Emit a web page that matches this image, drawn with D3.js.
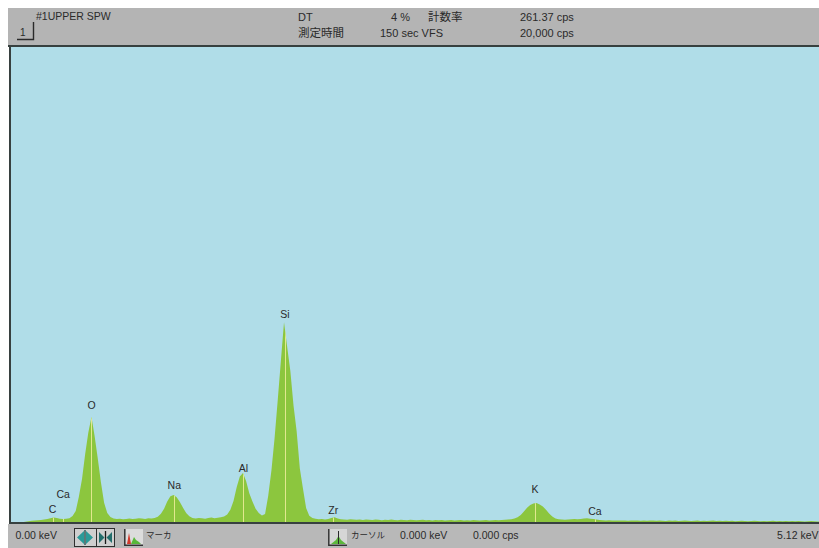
<!DOCTYPE html>
<html>
<head>
<meta charset="utf-8">
<script src="https://cdn.jsdelivr.net/npm/d3@7"></script>
<style>
  body { margin: 0; background: #ffffff; }
  svg { display: block; }
  text { font-family: "Liberation Sans", Arial, sans-serif; fill: #2a2a2a; }
  .jp { font-family: "Noto Sans CJK JP", sans-serif; }
</style>
</head>
<body>
<svg id="chart" width="819" height="548"></svg>
<script>
// ---- EDS spectrum data ----------------------------------------------------
const channelWidth = 0.02;          // keV per channel
const energyRange = [0, 5.12];      // keV shown on the horizontal axis
const fullScale = 20000;            // vertical full scale (cps)

// counts per channel, channel i is centred on (i + 0.5) * channelWidth keV
const counts = [
  0, 0, 10, 30, 50, 70, 90, 100, 120, 130,
  150, 170, 200, 230, 210, 180, 170, 180, 200, 290,
  500, 1100, 1850, 2900, 3800, 4450, 3650, 2700, 1700, 850,
  420, 250, 190, 170, 180, 160, 170, 190, 170, 180,
  200, 190, 170, 200, 190, 210, 260, 390, 600, 900,
  1120, 1180, 1080, 880, 640, 420, 280, 210, 190, 210,
  200, 180, 210, 230, 200, 220, 240, 270, 360, 560,
  920, 1500, 1950, 2100, 1750, 1250, 900, 600, 420, 320,
  380, 1150, 2200, 3550, 5150, 6800, 8440, 7400, 6400, 4950,
  3850, 2300, 1450, 630, 300, 210, 180, 160, 170, 150,
  170, 210, 240, 190, 160, 150, 140, 160, 150, 140,
  150, 130, 150, 140, 130, 150, 140, 120, 140, 130,
  150, 130, 120, 140, 130, 120, 140, 130, 120, 130,
  140, 120, 130, 110, 130, 120, 130, 110, 120, 130,
  110, 120, 130, 110, 120, 110, 130, 120, 110, 120,
  130, 110, 120, 130, 120, 130, 140, 150, 160, 190,
  240, 340, 480, 640, 760, 820, 840, 780, 690, 560,
  400, 270, 190, 160, 150, 140, 150, 160, 170, 160,
  170, 190, 200, 180, 170, 150, 130, 120, 110, 120,
  110, 100, 110, 100, 110, 90, 100, 110, 100, 90,
  100, 90, 100, 110, 90, 100, 90, 80, 100, 90,
  100, 80, 90, 100, 90, 80, 90, 100, 80, 90,
  80, 90, 100, 80, 90, 80, 90, 80, 90, 70,
  80, 90, 80, 70, 80, 90, 80, 70, 80, 70,
  80, 90, 70, 80, 70, 80, 70, 80, 70, 80,
  70, 60, 70, 80, 70, 60
];

// identified peaks: element symbol, line energy (keV), label height (cps)
const peakLabels   = ["C", "Ca", "O", "Na", "Al", "Si", "Zr", "K", "Ca"];
const peakEnergies = [0.264, 0.331, 0.51, 1.035, 1.472, 1.736, 2.042, 3.32, 3.70];
const labelLevels  = [420, 1050, 4790, 1430, 2140, 8610, 380, 1260, 340];

// measurement header
const sampleName = "#1UPPER SPW";
const deadTime = 4;          // %
const countRate = 261.37;    // cps
const liveTime = 150;        // sec
const cursorEnergy = 0;      // keV
const cursorCounts = 0;      // cps

// ---- layout -----------------------------------------------------------------
const W = 819, H = 548;
const plot = { left: 11, right: 819, top: 47, bottom: 523 };

const svg = d3.select("#chart");

// header panel
svg.append("rect").attr("x", 8).attr("y", 8).attr("width", W - 8).attr("height", 38)
  .attr("fill", "#b4b4b4");
// footer panel
svg.append("rect").attr("x", 8).attr("y", 524).attr("width", W - 8).attr("height", H - 524)
  .attr("fill", "#b8b8b8");
// plot background
svg.append("rect").attr("x", plot.left).attr("y", plot.top)
  .attr("width", plot.right - plot.left).attr("height", plot.bottom - plot.top)
  .attr("fill", "#b0dde8");

// ---- scales -------------------------------------------------------------------
const x = d3.scaleLinear().domain(energyRange).range([plot.left, plot.right]);
const y = d3.scaleLinear().domain([0, fullScale]).range([plot.bottom, plot.top]);

const spectrum = counts.map((c, i) => ({ e: (i + 0.5) * channelWidth, c }));
spectrum.unshift({ e: energyRange[0], c: 0 });
spectrum.push({ e: energyRange[1], c: counts[counts.length - 1] });

const area = d3.area()
  .curve(d3.curveLinear)
  .x(d => x(d.e))
  .y0(y(0))
  .y1(d => y(d.c));

// spectrum fill
svg.append("path").datum(spectrum)
  .attr("d", area)
  .attr("fill", "#8cc63e");

// element marker lines, visible only inside the spectrum
svg.append("clipPath").attr("id", "specClip")
  .append("path").datum(spectrum).attr("d", area);

svg.append("g").attr("clip-path", "url(#specClip)")
  .selectAll("line").data(peakEnergies).join("line")
  .attr("x1", d => Math.round(x(d)) + 0.5).attr("x2", d => Math.round(x(d)) + 0.5)
  .attr("y1", y(0)).attr("y2", y(fullScale))
  .attr("stroke", "#e2e88e").attr("stroke-width", 1);

// element labels
svg.append("g").selectAll("text").data(peakLabels).join("text")
  .attr("x", (d, i) => x(peakEnergies[i]))
  .attr("y", (d, i) => y(labelLevels[i]))
  .attr("text-anchor", "middle")
  .attr("font-size", 10.5)
  .attr("fill", "#333")
  .text(d => d);

// frame lines
svg.append("rect").attr("x", 8).attr("y", 45).attr("width", W - 8).attr("height", 2).attr("fill", "#37403f");
svg.append("rect").attr("x", 9).attr("y", 45).attr("width", 2).attr("height", 479).attr("fill", "#37403f");
svg.append("rect").attr("x", 9).attr("y", 522).attr("width", W - 9).attr("height", 2).attr("fill", "#37403f");

// energy axis end labels in the footer
const axis = d3.axisBottom(x)
  .tickValues(energyRange)
  .tickSize(0)
  .tickFormat(d => d3.format(".2f")(d) + " keV");
const axisG = svg.append("g").attr("transform", `translate(0,${plot.bottom})`).call(axis);
axisG.select(".domain").remove();
axisG.selectAll("text")
  .attr("font-family", "Liberation Sans, Arial, sans-serif")
  .attr("font-size", 10.5).attr("fill", "#2a2a2a")
  .attr("dy", null).attr("y", 15.5)
  .attr("text-anchor", (d, i) => i === 0 ? "start" : "end")
  .attr("dx", (d, i) => i === 0 ? 4 : -1);

// ---- header text ----------------------------------------------------------------
const hdr = svg.append("g");
hdr.append("text").attr("x", 36).attr("y", 20).attr("font-size", 10.5).text(sampleName);
// page button "1"
hdr.append("text").attr("x", 20).attr("y", 36).attr("font-size", 10).text("1");
hdr.append("path").attr("d", "M17,39.5H33.5V22").attr("fill", "none")
  .attr("stroke", "#2a2a2a").attr("stroke-width", 1.4);

hdr.append("text").attr("x", 298).attr("y", 21).attr("font-size", 11).text("DT");
hdr.append("text").attr("x", 410).attr("y", 21).attr("font-size", 11).attr("text-anchor", "end")
  .text(deadTime + " %");
hdr.append("text").attr("class", "jp").attr("x", 428).attr("y", 21).attr("font-size", 11.5).text("計数率");
hdr.append("text").attr("x", 520).attr("y", 21).attr("font-size", 11).text(d3.format(".2f")(countRate) + " cps");

hdr.append("text").attr("class", "jp").attr("x", 298).attr("y", 37).attr("font-size", 11.5).text("測定時間");
hdr.append("text").attr("x", 380).attr("y", 37).attr("font-size", 11).text(liveTime + " sec VFS");
hdr.append("text").attr("x", 520).attr("y", 37).attr("font-size", 11).text(d3.format(",")(fullScale) + " cps");

// ---- footer controls ---------------------------------------------------------
const ftr = svg.append("g");
// zoom buttons
ftr.append("rect").attr("x", 74.5).attr("y", 528.5).attr("width", 22).attr("height", 18)
  .attr("fill", "#cfcfcf").attr("stroke", "#2f2f2f");
ftr.append("rect").attr("x", 96.5).attr("y", 528.5).attr("width", 18).attr("height", 18)
  .attr("fill", "#cfcfcf").attr("stroke", "#2f2f2f");
ftr.append("path").attr("d", "M77,537.5L84,531V544Z M93,537.5L86,531V544Z").attr("fill", "#2a9a98");
ftr.append("line").attr("x1", 85).attr("x2", 85).attr("y1", 530).attr("y2", 545).attr("stroke", "#1d4b4a").attr("stroke-width", 1.3);
ftr.append("path").attr("d", "M99,532L104.5,537.5L99,543Z M112,532L106.5,537.5L112,543Z").attr("fill", "#236e6c");
ftr.append("line").attr("x1", 105.5).attr("x2", 105.5).attr("y1", 531).attr("y2", 544).attr("stroke", "#1a1a1a").attr("stroke-width", 1.3);

// marker icon
ftr.append("rect").attr("x", 124).attr("y", 529).attr("width", 19).attr("height", 17).attr("fill", "#dcdcdc");
ftr.append("path").attr("d", "M124.8,529V545.2H143").attr("fill", "none").attr("stroke", "#333").attr("stroke-width", 1.5);
ftr.append("path").attr("d", "M127,544L129,533L131,544Z").attr("fill", "#d33a2c");
ftr.append("path").attr("d", "M131,544L134,537L136,540L139,542L141,544Z").attr("fill", "#58b83a");
ftr.append("text").attr("class", "jp").attr("x", 146).attr("y", 538).attr("font-size", 8.5).text("マーカ");

// cursor icon
ftr.append("rect").attr("x", 328).attr("y", 529).attr("width", 19).attr("height", 17).attr("fill", "#d6d6d6");
ftr.append("path").attr("d", "M328.8,529V545.2H347").attr("fill", "none").attr("stroke", "#333").attr("stroke-width", 1.5);
ftr.append("path").attr("d", "M331,544L336,540L338.5,536L341,540L346,544Z").attr("fill", "#5cb83c");
ftr.append("line").attr("x1", 338.5).attr("x2", 338.5).attr("y1", 531).attr("y2", 544).attr("stroke", "#2a2a2a");
ftr.append("text").attr("class", "jp").attr("x", 351).attr("y", 538).attr("font-size", 8.5).text("カーソル");

ftr.append("text").attr("x", 400).attr("y", 539).attr("font-size", 10.5)
  .text(d3.format(".3f")(cursorEnergy) + " keV");
ftr.append("text").attr("x", 473).attr("y", 539).attr("font-size", 10.5)
  .text(d3.format(".3f")(cursorCounts) + " cps");
</script>
</body>
</html>
